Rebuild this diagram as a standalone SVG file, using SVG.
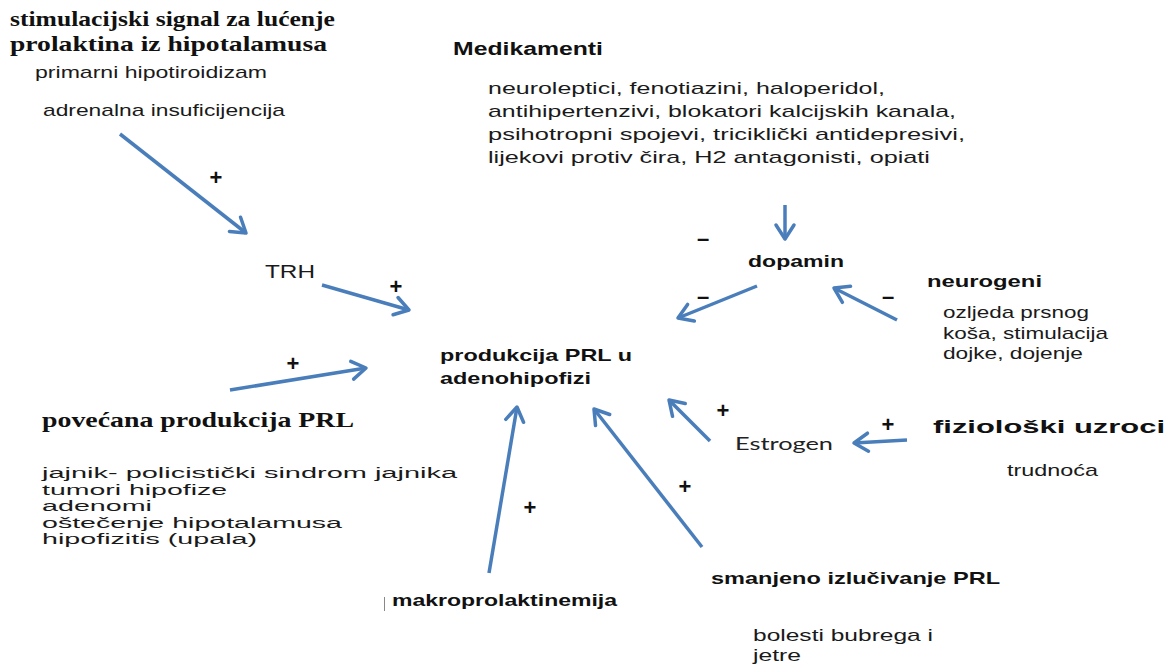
<svg xmlns="http://www.w3.org/2000/svg" width="1173" height="664" viewBox="0 0 1173 664">
<style>
.serifb{font-family:"Liberation Serif","Times New Roman",serif;font-weight:bold;font-size:21px;fill:#111}
.sans{font-family:"Liberation Sans",Arial,sans-serif;font-size:17px;fill:#1a1a1a}
.list{font-family:"Liberation Sans",Arial,sans-serif;font-size:15.5px;fill:#1a1a1a}
.sansb{font-family:"Liberation Sans",Arial,sans-serif;font-weight:bold;font-size:17px;fill:#111}
.cal{font-family:Lato,"Open Sans",sans-serif;font-size:18px;fill:#222}
.sign{font-family:"Liberation Sans",Arial,sans-serif;font-weight:bold;font-size:22px;fill:#111;text-anchor:middle}
.arr{stroke:#4a7ebb;stroke-width:3.5;fill:none;marker-end:url(#head)}
</style>
<defs>
<marker id="head" viewBox="-16 -11 18 22" refX="0" refY="0" markerWidth="18" markerHeight="22" markerUnits="userSpaceOnUse" orient="auto" overflow="visible">
<path d="M-14,-9 L0,0 L-14,9" fill="none" stroke="#4a7ebb" stroke-width="3.5" stroke-linecap="round" stroke-linejoin="round"/>
</marker>
</defs>
<rect width="1173" height="664" fill="#ffffff"/>

<g id="connectors">
<line class="arr" x1="120" y1="134" x2="246" y2="233"/>
<line class="arr" x1="322" y1="285" x2="409" y2="310"/>
<line class="arr" x1="230" y1="390" x2="366" y2="368"/>
<line class="arr" x1="785" y1="205" x2="785" y2="239"/>
<line class="arr" x1="757" y1="286" x2="678" y2="318"/>
<line class="arr" x1="897" y1="320" x2="834" y2="288"/>
<line class="arr" x1="710" y1="441" x2="669" y2="400"/>
<line class="arr" x1="907" y1="440" x2="854" y2="443"/>
<line class="arr" x1="489" y1="573" x2="517" y2="407"/>
<line class="arr" x1="702" y1="547" x2="594" y2="409"/>
</g>

<g id="signs">
<text class="sign" x="216" y="185">+</text>
<text class="sign" x="396" y="294">+</text>
<text class="sign" x="293" y="371">+</text>
<text class="sign" x="530" y="515">+</text>
<text class="sign" x="685" y="494">+</text>
<text class="sign" x="723" y="418">+</text>
<text class="sign" x="888" y="432">+</text>
<text class="sign" x="703" y="246">–</text>
<text class="sign" x="703" y="304">–</text>
<text class="sign" x="888" y="304">–</text>
</g>

<g id="stimulacijski">
<text class="serifb" x="10" y="26" textLength="325" lengthAdjust="spacingAndGlyphs">stimulacijski signal za lućenje</text>
<text class="serifb" x="10" y="51" textLength="317" lengthAdjust="spacingAndGlyphs">prolaktina iz hipotalamusa</text>
<text class="sans" x="35" y="78" textLength="232" lengthAdjust="spacingAndGlyphs">primarni hipotiroidizam</text>
<text class="sans" x="43" y="116" textLength="242" lengthAdjust="spacingAndGlyphs">adrenalna insuficijencija</text>
</g>

<g id="medikamenti">
<text class="sansb" x="453" y="55" textLength="150" lengthAdjust="spacingAndGlyphs" style="font-size:18px">Medikamenti</text>
<text class="sans" x="488" y="94" textLength="397" lengthAdjust="spacingAndGlyphs">neuroleptici, fenotiazini, haloperidol,</text>
<text class="sans" x="488" y="117" textLength="468" lengthAdjust="spacingAndGlyphs">antihipertenzivi, blokatori kalcijskih kanala,</text>
<text class="sans" x="488" y="140" textLength="477" lengthAdjust="spacingAndGlyphs">psihotropni spojevi, triciklički antidepresivi,</text>
<text class="sans" x="488" y="163" textLength="442" lengthAdjust="spacingAndGlyphs">lijekovi protiv čira, H2 antagonisti, opiati</text>
</g>

<g id="trh">
<text class="sans" x="265" y="278" textLength="50" lengthAdjust="spacingAndGlyphs" style="font-size:18px">TRH</text>
</g>

<g id="produkcija">
<text class="sansb" x="440" y="361" textLength="192" lengthAdjust="spacingAndGlyphs">produkcija PRL u</text>
<text class="sansb" x="440" y="384" textLength="151" lengthAdjust="spacingAndGlyphs">adenohipofizi</text>
</g>

<g id="povecana">
<text class="serifb" x="42" y="427" textLength="312" lengthAdjust="spacingAndGlyphs">povećana produkcija PRL</text>
<text class="list" x="42" y="478" textLength="415" lengthAdjust="spacingAndGlyphs">jajnik- policistički sindrom jajnika</text>
<text class="list" x="42" y="495" textLength="185" lengthAdjust="spacingAndGlyphs">tumori hipofize</text>
<text class="list" x="42" y="511" textLength="110" lengthAdjust="spacingAndGlyphs">adenomi</text>
<text class="list" x="42" y="528" textLength="300" lengthAdjust="spacingAndGlyphs">oštečenje hipotalamusa</text>
<text class="list" x="42" y="544" textLength="215" lengthAdjust="spacingAndGlyphs">hipofizitis (upala)</text>
</g>

<g id="dopamin">
<text class="sansb" x="748" y="267" textLength="96" lengthAdjust="spacingAndGlyphs">dopamin</text>
</g>

<g id="neurogeni">
<text class="sansb" x="927" y="287" textLength="115" lengthAdjust="spacingAndGlyphs">neurogeni</text>
<text class="sans" x="943" y="318" textLength="146" lengthAdjust="spacingAndGlyphs">ozljeda prsnog</text>
<text class="sans" x="943" y="339" textLength="165" lengthAdjust="spacingAndGlyphs">koša, stimulacija</text>
<text class="sans" x="943" y="359" textLength="140" lengthAdjust="spacingAndGlyphs">dojke, dojenje</text>
</g>

<g id="estrogen">
<text class="cal" x="735" y="450" textLength="98" lengthAdjust="spacingAndGlyphs">Estrogen</text>
</g>

<g id="fizioloski">
<text class="sansb" x="933" y="433" textLength="232" lengthAdjust="spacingAndGlyphs" style="font-size:19px">fiziološki uzroci</text>
<text class="sans" x="1007" y="476" textLength="91" lengthAdjust="spacingAndGlyphs">trudnoća</text>
</g>

<g id="makroprolaktinemija">
<line x1="384.5" y1="597" x2="384.5" y2="611" stroke="#888" stroke-width="1"/>
<text class="sansb" x="392" y="606" textLength="225" lengthAdjust="spacingAndGlyphs">makroprolaktinemija</text>
</g>

<g id="smanjeno">
<text class="sansb" x="711" y="584" textLength="289" lengthAdjust="spacingAndGlyphs">smanjeno izlučivanje PRL</text>
<text class="sans" x="753" y="641" textLength="180" lengthAdjust="spacingAndGlyphs">bolesti bubrega i</text>
<text class="sans" x="753" y="661" textLength="48" lengthAdjust="spacingAndGlyphs">jetre</text>
</g>
</svg>
